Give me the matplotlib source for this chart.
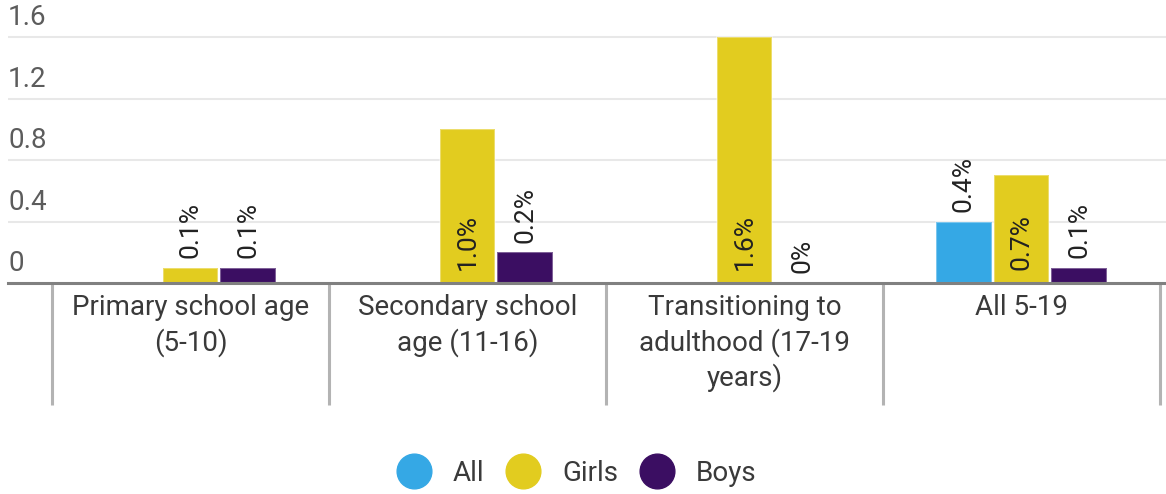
import numpy as np
import matplotlib
matplotlib.use('Agg')
import matplotlib.pyplot as plt
from matplotlib.lines import Line2D
from matplotlib.transforms import blended_transform_factory

plt.rcParams['font.family'] = ['Roboto', 'DejaVu Sans']

# Data
categories = ['Primary school age\n(5-10)', 'Secondary school\nage (11-16)',
              'Transitioning to\nadulthood (17-19\nyears)', 'All 5-19']
all_vals = [np.nan, np.nan, np.nan, 0.4]
girls_vals = [0.1, 1.0, 1.6, 0.7]
boys_vals = [0.1, 0.2, 0.0, 0.1]
y_ticks = [0, 0.4, 0.8, 1.2, 1.6]

series = [('All', all_vals, '#35a8e5'),
          ('Girls', girls_vals, '#e2cc1f'),
          ('Boys', boys_vals, '#3b0e62')]

W, H = 1166, 494
fig = plt.figure(figsize=(W / 100, H / 100), dpi=100)
ax_left, ax_right, ax_top, ax_bottom = 8, 1166, 35, 283
ax = fig.add_axes([ax_left / W, 1 - ax_bottom / H,
                   (ax_right - ax_left) / W, (ax_bottom - ax_top) / H])

cat_px = 277.0
x0_px = 52.0
ax.set_xlim(-0.5 - (x0_px - ax_left) / cat_px, -0.5 + (ax_right - x0_px) / cat_px)
ax.set_ylim(0, 1.6 + 2 / (246 / 1.6))

x = np.arange(len(categories))
step = 0.2076
bw = 0.2
for i, (name, vals, col) in enumerate(series):
    pos = x + (i - 1) * step
    vals = np.array(vals, dtype=float)
    ax.bar(pos, vals, width=bw, color=col, edgecolor=(1, 1, 1, 0.35),
           linewidth=1.5, zorder=3)
    for px, v in zip(pos, vals):
        if np.isnan(v):
            continue
        txt = '0%' if v == 0 else f'{v:.1f}%'
        if v >= 0.5:
            ax.annotate(txt, (px, 0), xytext=(0, 9.5), textcoords='offset points',
                        rotation=90, ha='center', va='bottom', fontsize=19,
                        color='#222222', zorder=4)
        else:
            ax.annotate(txt, (px, v), xytext=(0, 7), textcoords='offset points',
                        rotation=90, ha='center', va='bottom', fontsize=19,
                        color='#222222', zorder=4)

# gridlines and y labels sitting above them
trans = blended_transform_factory(ax.transAxes, ax.transData)
for t in y_ticks[1:]:
    ax.axhline(t, color='#e8e8e8', linewidth=1.5, zorder=1)
for t in y_ticks:
    ax.annotate(f'{t:g}', (0, t), xycoords=trans, xytext=(0, 4),
                textcoords='offset points', ha='left', va='bottom',
                fontsize=20, color='#5c5c5c')
ax.set_yticks([])

for s in ['top', 'right', 'left']:
    ax.spines[s].set_visible(False)
ax.spines['bottom'].set_color('#808080')
ax.spines['bottom'].set_linewidth(2.2)
ax.spines['bottom'].set_zorder(5)

ax.set_xticks(x)
ax.set_xticklabels(categories, fontsize=20, color='#3a3a3a', linespacing=1.3,
                   va='top')
ax.tick_params(axis='x', length=0, pad=8)

# category separators below the axis
trans_x = blended_transform_factory(ax.transData, ax.transAxes)
sep_len = (405 - ax_bottom) / (ax_bottom - ax_top)
ax.vlines(np.arange(len(categories) + 1) - 0.5, -sep_len, 0, transform=trans_x,
          colors='#b3b3b3', linewidth=2.2, clip_on=False)

handles = [Line2D([], [], marker='o', linestyle='', markersize=25,
                  markerfacecolor=c, markeredgecolor=c, label=n)
           for n, _, c in series]
fig.legend(handles=handles, loc='center', bbox_to_anchor=(576 / W, 1 - 473 / H),
           ncol=3, frameon=False, fontsize=20, handletextpad=0.75,
           columnspacing=0.75, handlelength=1.3, labelcolor='#3a3a3a')

fig.savefig('out.png', dpi=100)
